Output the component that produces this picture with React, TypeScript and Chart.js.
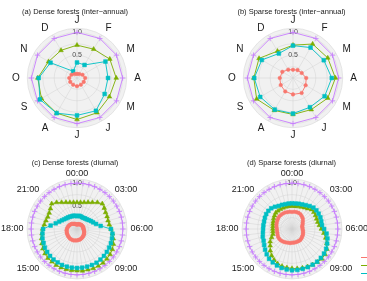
import React, { useEffect, useRef } from 'react';
import { Chart, registerables } from 'chart.js';

Chart.register(...registerables);

const FONT = "'Liberation Sans', Arial, Helvetica, sans-serif";
const RED = '#F8766D';
const GREEN = '#7CAE00';
const CYAN = '#00BFC4';
const PURPLE = '#C77CFF';

// ---- categories ----
const months = ['J', 'F', 'M', 'A', 'M', 'J', 'J', 'A', 'S', 'O', 'N', 'D'];
const halfHours = [
  '00:00', '00:30', '01:00', '01:30', '02:00', '02:30', '03:00', '03:30', '04:00', '04:30', '05:00', '05:30',
  '06:00', '06:30', '07:00', '07:30', '08:00', '08:30', '09:00', '09:30', '10:00', '10:30', '11:00', '11:30',
  '12:00', '12:30', '13:00', '13:30', '14:00', '14:30', '15:00', '15:30', '16:00', '16:30', '17:00', '17:30',
  '18:00', '18:30', '19:00', '19:30', '20:00', '20:30', '21:00', '21:30', '22:00', '22:30', '23:00', '23:30',
];
const shownHours = ['00:00', '03:00', '06:00', '09:00', '12:00', '15:00', '18:00', '21:00'];
const radialTickLabels = ['0.5', '1.0'];

// ---- (a) dense forests, inter-annual ----
const denseAnnualRed = [0.09, 0.10, 0.14, 0.18, 0.17, 0.17, 0.18, 0.17, 0.17, 0.17, 0.14, 0.10];
const denseAnnualCyan = [0.34, 0.33, 0.72, 0.68, 0.70, 0.83, 0.82, 0.89, 0.94, 0.84, 0.67, 0.17];
const denseAnnualGreen = [0.72, 0.73, 0.83, 0.86, 0.82, 0.88, 0.91, 0.89, 0.90, 0.86, 0.72, 0.70];
const denseAnnualPurple = [1.0, 1.0, 1.0, 1.0, 1.0, 1.0, 1.0, 1.0, 1.0, 1.0, 1.0, 1.0];

// ---- (b) sparse forests, inter-annual ----
const sparseAnnualRed = [0.18, 0.20, 0.22, 0.29, 0.32, 0.38, 0.36, 0.34, 0.31, 0.29, 0.27, 0.21];
const sparseAnnualCyan = [0.71, 0.77, 0.78, 0.85, 0.80, 0.74, 0.78, 0.80, 0.83, 0.85, 0.79, 0.62];
const sparseAnnualGreen = [0.72, 0.86, 0.88, 0.93, 0.88, 0.80, 0.80, 0.82, 0.92, 0.86, 0.86, 0.68];
const sparseAnnualPurple = [1.0, 1.0, 1.0, 1.0, 1.0, 1.0, 1.0, 1.0, 1.0, 1.0, 1.0, 1.0];

// ---- (c) dense forests, diurnal ----
const denseDiurnalRed = [
  0.10, 0.10, 0.11, 0.11, 0.12, 0.12, 0.13, 0.13, 0.13, 0.14, 0.14, 0.14,
  0.14, 0.15, 0.16, 0.17, 0.18, 0.19, 0.20, 0.21, 0.22, 0.23, 0.24, 0.24,
  0.25, 0.25, 0.26, 0.26, 0.26, 0.26, 0.25, 0.25, 0.24, 0.24, 0.23, 0.23,
  0.22, 0.21, 0.20, 0.19, 0.18, 0.17, 0.16, 0.14, 0.13, 0.12, 0.11, 0.10,
];
const denseDiurnalCyan = [
  0.28, 0.29, 0.29, 0.28, 0.28, 0.29, 0.30, 0.32, 0.35, 0.38, 0.43, 0.52,
  0.74, 0.78, 0.79, 0.80, 0.81, 0.82, 0.83, 0.84, 0.85, 0.85, 0.85, 0.85,
  0.85, 0.85, 0.85, 0.85, 0.84, 0.84, 0.83, 0.82, 0.81, 0.79, 0.78, 0.76,
  0.74, 0.58, 0.48, 0.42, 0.38, 0.35, 0.33, 0.32, 0.31, 0.30, 0.30, 0.29,
];
const denseDiurnalGreen = [
  0.58, 0.585, 0.60, 0.63, 0.67, 0.73, 0.78, 0.75, 0.72, 0.71, 0.70, 0.71,
  0.74, 0.78, 0.82, 0.86, 0.89, 0.91, 0.92, 0.93, 0.93, 0.93, 0.92, 0.92,
  0.91, 0.91, 0.91, 0.91, 0.91, 0.90, 0.90, 0.88, 0.86, 0.83, 0.80, 0.77,
  0.75, 0.72, 0.70, 0.69, 0.70, 0.73, 0.78, 0.73, 0.67, 0.63, 0.60, 0.585,
];
const denseDiurnalPurple = [
  1.0, 1.0, 1.0, 1.0, 1.0, 1.0, 1.0, 1.0, 1.0, 1.0, 1.0, 1.0,
  1.0, 1.0, 1.0, 1.0, 1.0, 1.0, 1.0, 1.0, 1.0, 1.0, 1.0, 1.0,
  1.0, 1.0, 1.0, 1.0, 1.0, 1.0, 1.0, 1.0, 1.0, 1.0, 1.0, 1.0,
  1.0, 1.0, 1.0, 1.0, 1.0, 1.0, 1.0, 1.0, 1.0, 1.0, 1.0, 1.0,
];

// ---- (d) sparse forests, diurnal ----
const sparseDiurnalRed = [
  0.37, 0.38, 0.38, 0.38, 0.37, 0.35, 0.33, 0.30, 0.27, 0.25, 0.23, 0.23,
  0.23, 0.24, 0.25, 0.26, 0.27, 0.28, 0.29, 0.30, 0.30, 0.30, 0.30, 0.30,
  0.30, 0.31, 0.31, 0.32, 0.33, 0.34, 0.35, 0.35, 0.35, 0.34, 0.33, 0.33,
  0.33, 0.34, 0.35, 0.36, 0.37, 0.38, 0.39, 0.39, 0.39, 0.39, 0.38, 0.38,
];
const sparseDiurnalCyan = [
  0.56, 0.56, 0.57, 0.58, 0.60, 0.63, 0.66, 0.67, 0.67, 0.67, 0.66, 0.66,
  0.70, 0.76, 0.80, 0.83, 0.86, 0.88, 0.89, 0.90, 0.90, 0.90, 0.90, 0.90,
  0.90, 0.89, 0.88, 0.86, 0.84, 0.82, 0.78, 0.74, 0.70, 0.67, 0.66, 0.64,
  0.63, 0.63, 0.63, 0.64, 0.65, 0.65, 0.64, 0.61, 0.58, 0.57, 0.56, 0.56,
];
const sparseDiurnalGreen = [
  0.50, 0.50, 0.51, 0.52, 0.54, 0.56, 0.60, 0.60, 0.59, 0.58, 0.58, 0.60,
  0.64, 0.70, 0.76, 0.82, 0.88, 0.91, 0.92, 0.91, 0.90, 0.89, 0.88, 0.87,
  0.86, 0.85, 0.84, 0.82, 0.78, 0.73, 0.67, 0.60, 0.55, 0.48, 0.43, 0.42,
  0.42, 0.42, 0.43, 0.44, 0.46, 0.48, 0.50, 0.50, 0.50, 0.50, 0.50, 0.50,
];
const sparseDiurnalPurple = [
  1.0, 1.0, 1.0, 1.0, 1.0, 1.0, 1.0, 1.0, 1.0, 1.0, 1.0, 1.0,
  1.0, 1.0, 1.0, 1.0, 1.0, 1.0, 1.0, 1.0, 1.0, 1.0, 1.0, 1.0,
  1.0, 1.0, 1.0, 1.0, 1.0, 1.0, 1.0, 1.0, 1.0, 1.0, 1.0, 1.0,
  1.0, 1.0, 1.0, 1.0, 1.0, 1.0, 1.0, 1.0, 1.0, 1.0, 1.0, 1.0,
];

type PanelDef = {
  title: string;
  titleX: number;
  titleY: number;
  left: number;
  top: number;
  width: number;
  height: number;
  labels: string[];
  showLabel: (l: string) => boolean;
  labelSize: number;
  labelLineHeight: number;
  labelPadding: number;
  red: number[];
  cyan: number[];
  green: number[];
  purple: number[];
};

const panels: PanelDef[] = [
  {
    title: '(a) Dense forests (inter\u2212annual)', titleX: 75, titleY: 12,
    left: 11, top: 11, width: 131, height: 135,
    labels: months, showLabel: () => true, labelSize: 10, labelLineHeight: 0.1, labelPadding: 4,
    red: denseAnnualRed, cyan: denseAnnualCyan, green: denseAnnualGreen, purple: denseAnnualPurple,
  },
  {
    title: '(b) Sparse forests (inter\u2212annual)', titleX: 291.5, titleY: 12,
    left: 227, top: 11, width: 131, height: 135,
    labels: months, showLabel: () => true, labelSize: 10, labelLineHeight: 0.1, labelPadding: 4,
    red: sparseAnnualRed, cyan: sparseAnnualCyan, green: sparseAnnualGreen, purple: sparseAnnualPurple,
  },
  {
    title: '(c) Dense forests (diurnal)', titleX: 75, titleY: 163,
    left: 1, top: 151, width: 153, height: 157,
    labels: halfHours, showLabel: (l) => shownHours.includes(l), labelSize: 9, labelLineHeight: 0.4, labelPadding: 0,
    red: denseDiurnalRed, cyan: denseDiurnalCyan, green: denseDiurnalGreen, purple: denseDiurnalPurple,
  },
  {
    title: '(d) Sparse forests (diurnal)', titleX: 291.5, titleY: 163,
    left: 216, top: 151, width: 153, height: 157,
    labels: halfHours, showLabel: (l) => shownHours.includes(l), labelSize: 9, labelLineHeight: 0.4, labelPadding: 0,
    red: sparseDiurnalRed, cyan: sparseDiurnalCyan, green: sparseDiurnalGreen, purple: sparseDiurnalPurple,
  },
];

const panelBackground = {
  id: 'panelBackground',
  beforeDraw(chart: any) {
    const s = chart.scales.r;
    if (!s) return;
    const ctx = chart.ctx;
    ctx.save();
    ctx.beginPath();
    ctx.arc(s.xCenter, s.yCenter, s.drawingArea, 0, Math.PI * 2);
    ctx.fillStyle = '#F1F1F1';
    ctx.fill();
    ctx.restore();
  },
};

function RadarPanel({ p }: { p: PanelDef }) {
  const ref = useRef<HTMLCanvasElement>(null);
  useEffect(() => {
    const chart = new Chart(ref.current as HTMLCanvasElement, {
      type: 'radar',
      data: {
        labels: p.labels,
        datasets: [
          {
            data: p.red, borderColor: RED, backgroundColor: RED, pointBackgroundColor: RED,
            pointStyle: 'circle', pointRadius: 1.8, pointBorderWidth: 0.5, borderWidth: 0.9, fill: false,
          },
          {
            data: p.cyan, borderColor: CYAN, backgroundColor: CYAN, pointBackgroundColor: CYAN,
            pointStyle: 'rect', pointRadius: 2.7, pointBorderWidth: 0.5, borderWidth: 0.9, fill: false,
          },
          {
            data: p.green, borderColor: GREEN, backgroundColor: GREEN, pointBackgroundColor: GREEN,
            pointStyle: 'triangle', pointRadius: 2.7, pointBorderWidth: 0.5, borderWidth: 0.9, fill: false,
          },
          {
            data: p.purple, borderColor: PURPLE, backgroundColor: PURPLE, pointBackgroundColor: PURPLE,
            pointStyle: 'cross', pointRadius: 2.7, pointBorderWidth: 0.8, borderWidth: 0.9, fill: false,
          },
        ],
      },
      options: {
        animation: false,
        responsive: false,
        devicePixelRatio: 1,
        elements: { line: { tension: 0 } },
        plugins: { legend: { display: false }, tooltip: { enabled: false }, title: { display: false } },
        scales: {
          r: {
            min: 0,
            max: 1.09,
            ticks: {
              stepSize: 0.25,
              showLabelBackdrop: false,
              backdropPadding: 0,
              color: '#4D4D4D',
              font: { family: FONT, size: 7 },
              callback: (v: any) => {
                const s = Number(v).toFixed(1);
                return (Math.abs(v - 0.5) < 1e-6 || Math.abs(v - 1) < 1e-6) && radialTickLabels.includes(s) ? s : '';
              },
            },
            grid: { circular: true, color: '#D9D9D9', lineWidth: 0.6 },
            angleLines: { color: '#D2D2D2', lineWidth: 0.5 },
            pointLabels: {
              display: true,
              padding: p.labelPadding,
              color: '#1A1A1A',
              font: { family: FONT, size: p.labelSize, lineHeight: p.labelLineHeight },
              callback: (l: string) => (p.showLabel(l) ? l : ''),
            },
          },
        },
      },
      plugins: [panelBackground],
    } as any);
    return () => chart.destroy();
  }, [p]);
  return (
    <canvas
      ref={ref}
      width={p.width}
      height={p.height}
      style={{ position: 'absolute', left: p.left, top: p.top, width: p.width, height: p.height }}
    />
  );
}

const legendKeys = [
  { color: RED, top: 257 },
  { color: GREEN, top: 265 },
  { color: CYAN, top: 273 },
];

export default function App() {
  return (
    <div
      style={{
        position: 'fixed', left: 0, top: 0, width: 367, height: 281, overflow: 'hidden',
        background: '#FFFFFF', fontFamily: FONT,
      }}
    >
      {panels.map((p, i) => (
        <React.Fragment key={i}>
          <RadarPanel p={p} />
          <div
            style={{
              position: 'absolute', left: p.titleX - 80, top: p.titleY - 5, width: 160, height: 10,
              lineHeight: '10px', textAlign: 'center', fontSize: 7.5, color: '#1A1A1A', whiteSpace: 'nowrap',
            }}
          >
            {p.title}
          </div>
        </React.Fragment>
      ))}
      {legendKeys.map((k, i) => (
        <div key={i} style={{ position: 'absolute', left: 361, top: k.top, width: 10, height: 1, background: k.color }} />
      ))}
    </div>
  );
}
